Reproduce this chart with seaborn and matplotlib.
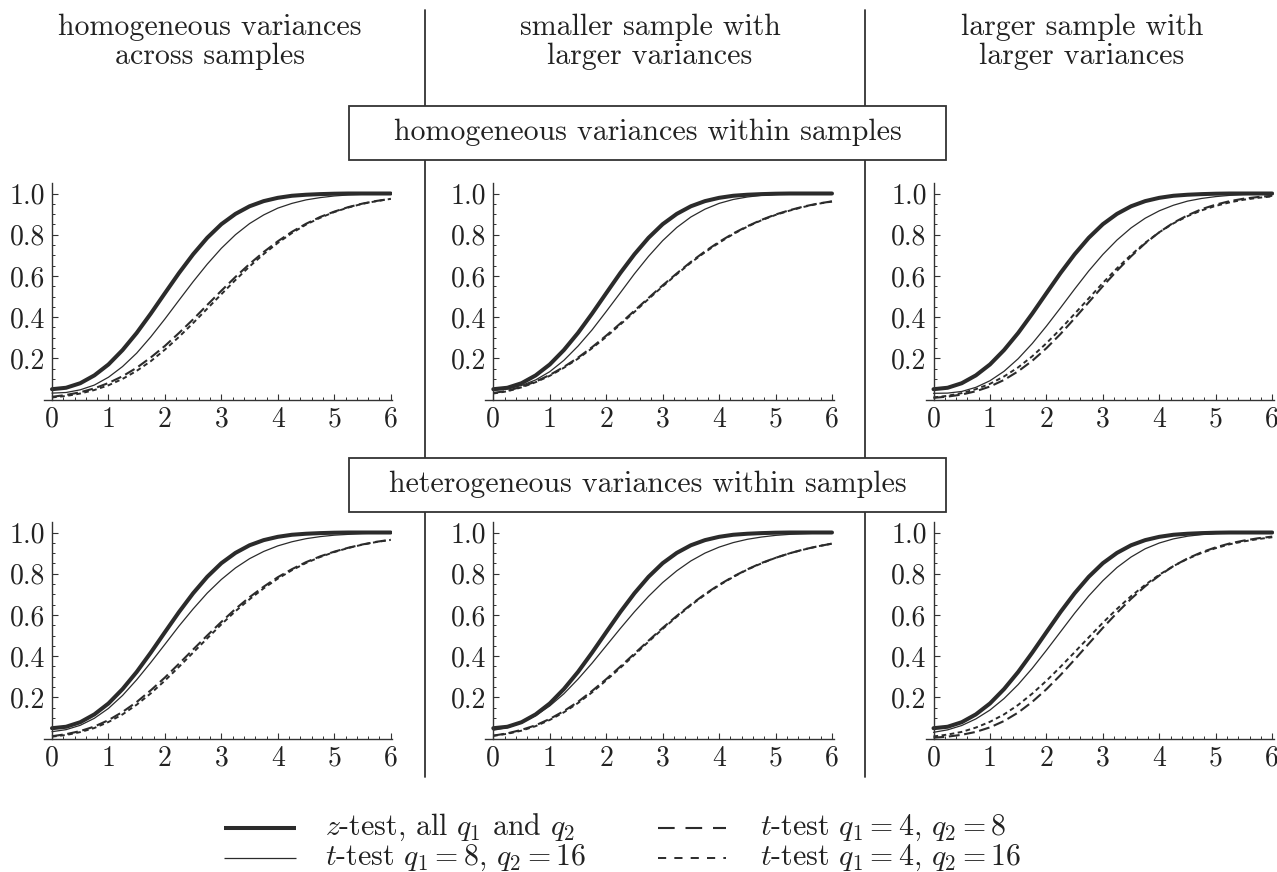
import numpy as np
import pandas as pd
import matplotlib
matplotlib.use("Agg")
import matplotlib.pyplot as plt
import seaborn as sns
from matplotlib.lines import Line2D
from matplotlib.patches import Rectangle

# ---------------- data ----------------
delta = [0.0, 0.25, 0.5, 0.75, 1.0, 1.25, 1.5, 1.75, 2.0, 2.25, 2.5, 2.75, 3.0,
         3.25, 3.5, 3.75, 4.0, 4.25, 4.5, 4.75, 5.0, 5.25, 5.5, 5.75, 6.0]

z_test_all = [0.050, 0.057, 0.079, 0.117, 0.170, 0.240, 0.323, 0.417, 0.516, 0.614, 0.705, 0.785, 0.851,
              0.901, 0.938, 0.963, 0.979, 0.989, 0.994, 0.997, 0.999, 1.000, 1.000, 1.000, 1.000]

# homogeneous within / homogeneous across
hw_ha_t8_16 = [0.031, 0.034, 0.047, 0.070, 0.108, 0.160, 0.225, 0.304, 0.391, 0.482, 0.572, 0.657, 0.734,
               0.800, 0.854, 0.896, 0.929, 0.952, 0.969, 0.980, 0.988, 0.993, 0.996, 0.997, 0.999]
hw_ha_t4_8 = [0.013, 0.022, 0.035, 0.054, 0.080, 0.113, 0.154, 0.204, 0.260, 0.323, 0.389, 0.459, 0.528,
              0.595, 0.658, 0.716, 0.768, 0.814, 0.853, 0.886, 0.912, 0.934, 0.951, 0.964, 0.974]
hw_ha_t4_16 = [0.010, 0.017, 0.029, 0.046, 0.069, 0.100, 0.139, 0.186, 0.242, 0.304, 0.371, 0.441, 0.511,
               0.580, 0.646, 0.706, 0.760, 0.808, 0.849, 0.882, 0.910, 0.932, 0.950, 0.963, 0.974]
# homogeneous within / smaller sample larger variances
hw_sl_t8_16 = [0.045, 0.051, 0.068, 0.095, 0.135, 0.190, 0.259, 0.338, 0.427, 0.518, 0.610, 0.695, 0.771,
               0.835, 0.886, 0.924, 0.952, 0.971, 0.983, 0.991, 0.995, 0.998, 0.999, 1.000, 1.000]
hw_sl_t4_8 = [0.032, 0.042, 0.062, 0.087, 0.119, 0.158, 0.203, 0.254, 0.310, 0.369, 0.431, 0.493, 0.554,
              0.612, 0.668, 0.719, 0.765, 0.806, 0.841, 0.872, 0.898, 0.919, 0.937, 0.951, 0.962]
hw_sl_t4_16 = [0.029, 0.040, 0.059, 0.084, 0.115, 0.154, 0.198, 0.249, 0.304, 0.364, 0.425, 0.488, 0.549,
               0.608, 0.664, 0.715, 0.761, 0.803, 0.839, 0.870, 0.896, 0.917, 0.935, 0.950, 0.961]
# homogeneous within / larger sample larger variances
hw_ll_t8_16 = [0.030, 0.031, 0.039, 0.059, 0.091, 0.137, 0.198, 0.272, 0.356, 0.445, 0.536, 0.624, 0.704,
               0.774, 0.833, 0.880, 0.916, 0.943, 0.963, 0.976, 0.985, 0.991, 0.995, 0.997, 0.998]
hw_ll_t4_8 = [0.008, 0.014, 0.024, 0.040, 0.063, 0.095, 0.137, 0.188, 0.249, 0.318, 0.394, 0.472, 0.550,
              0.625, 0.695, 0.758, 0.812, 0.858, 0.894, 0.924, 0.946, 0.963, 0.975, 0.983, 0.989]
hw_ll_t4_16 = [0.010, 0.018, 0.031, 0.050, 0.076, 0.112, 0.156, 0.210, 0.273, 0.342, 0.416, 0.491, 0.566,
               0.637, 0.702, 0.761, 0.812, 0.855, 0.890, 0.918, 0.940, 0.957, 0.970, 0.979, 0.986]
# heterogeneous within / homogeneous across
he_ha_t8_16 = [0.033, 0.043, 0.064, 0.098, 0.146, 0.209, 0.285, 0.369, 0.457, 0.546, 0.629, 0.706, 0.772,
               0.828, 0.873, 0.908, 0.935, 0.955, 0.970, 0.980, 0.987, 0.991, 0.995, 0.997, 0.998]
he_ha_t4_8 = [0.011, 0.021, 0.036, 0.058, 0.089, 0.129, 0.177, 0.234, 0.296, 0.363, 0.432, 0.500, 0.566,
              0.629, 0.686, 0.737, 0.783, 0.822, 0.856, 0.884, 0.907, 0.926, 0.942, 0.955, 0.965]
he_ha_t4_16 = [0.009, 0.017, 0.031, 0.051, 0.080, 0.117, 0.164, 0.219, 0.281, 0.348, 0.417, 0.486, 0.554,
               0.618, 0.676, 0.729, 0.776, 0.817, 0.852, 0.881, 0.905, 0.925, 0.941, 0.954, 0.964]
# heterogeneous within / smaller sample larger variances
he_sl_t8_16 = [0.040, 0.053, 0.076, 0.111, 0.158, 0.217, 0.288, 0.366, 0.450, 0.534, 0.615, 0.690, 0.757,
               0.814, 0.862, 0.900, 0.929, 0.951, 0.967, 0.978, 0.986, 0.991, 0.994, 0.997, 0.998]
he_sl_t4_8 = [0.014, 0.025, 0.042, 0.064, 0.095, 0.133, 0.178, 0.231, 0.288, 0.349, 0.412, 0.475, 0.537,
              0.595, 0.650, 0.701, 0.746, 0.786, 0.821, 0.852, 0.877, 0.899, 0.918, 0.933, 0.946]
he_sl_t4_16 = [0.013, 0.023, 0.038, 0.060, 0.090, 0.127, 0.172, 0.224, 0.282, 0.343, 0.406, 0.470, 0.532,
               0.591, 0.647, 0.698, 0.744, 0.784, 0.820, 0.850, 0.877, 0.899, 0.917, 0.933, 0.946]
# heterogeneous within / larger sample larger variances
he_ll_t8_16 = [0.030, 0.042, 0.063, 0.095, 0.138, 0.194, 0.262, 0.341, 0.428, 0.518, 0.608, 0.692, 0.766,
               0.830, 0.881, 0.921, 0.949, 0.969, 0.982, 0.990, 0.995, 0.997, 0.999, 0.999, 1.000]
he_ll_t4_8 = [0.004, 0.009, 0.018, 0.032, 0.054, 0.085, 0.126, 0.178, 0.239, 0.308, 0.383, 0.460, 0.537,
              0.610, 0.678, 0.739, 0.791, 0.837, 0.874, 0.904, 0.928, 0.947, 0.961, 0.972, 0.980]
he_ll_t4_16 = [0.010, 0.019, 0.032, 0.053, 0.081, 0.117, 0.163, 0.218, 0.280, 0.348, 0.419, 0.491, 0.562,
               0.629, 0.691, 0.746, 0.795, 0.837, 0.872, 0.901, 0.924, 0.943, 0.957, 0.968, 0.977]

col_headers = [("homogeneous variances", "across samples"),
               ("smaller sample with", "larger variances"),
               ("larger sample with", "larger variances")]
row_titles = ["homogeneous variances within samples",
              "heterogeneous variances within samples"]
x_tick_values = [0, 1, 2, 3, 4, 5, 6]
x_tick_labels = ["0", "1", "2", "3", "4", "5", "6"]
y_tick_values = [0.2, 0.4, 0.6, 0.8, 1.0]
y_tick_labels = ["0.2", "0.4", "0.6", "0.8", "1.0"]
test_order = ["z", "t8_16", "t4_8", "t4_16"]
legend_labels = [r"$z$-test, all $q_1$ and $q_2$",
                 r"$t$-test $q_1 = 8$, $q_2 = 16$",
                 r"$t$-test $q_1 = 4$, $q_2 = 8$",
                 r"$t$-test $q_1 = 4$, $q_2 = 16$"]

panel_series = [
    [[z_test_all, hw_ha_t8_16, hw_ha_t4_8, hw_ha_t4_16],
     [z_test_all, hw_sl_t8_16, hw_sl_t4_8, hw_sl_t4_16],
     [z_test_all, hw_ll_t8_16, hw_ll_t4_8, hw_ll_t4_16]],
    [[z_test_all, he_ha_t8_16, he_ha_t4_8, he_ha_t4_16],
     [z_test_all, he_sl_t8_16, he_sl_t4_8, he_sl_t4_16],
     [z_test_all, he_ll_t8_16, he_ll_t4_8, he_ll_t4_16]],
]

# ---------------- style ----------------
sns.set_theme(style="ticks")
plt.rcParams["font.family"] = ["cmr10", "DejaVu Sans"]
plt.rcParams["mathtext.fontset"] = "cm"
plt.rcParams["axes.formatter.use_mathtext"] = True
plt.rcParams["axes.unicode_minus"] = False

INK = "#2b2b2b"
AX = "#333333"
palette = {"z": INK, "t8_16": INK, "t4_8": INK, "t4_16": INK}
sizes = {"z": 2.9, "t8_16": 0.9, "t4_8": 1.5, "t4_16": 1.4}
dashes = {"z": "", "t8_16": "", "t4_8": (5.2, 2.2), "t4_16": (2.4, 1.8)}

W, H = 1277, 872
fig = plt.figure(figsize=(W / 100, H / 100), dpi=100)
fig.patch.set_facecolor("white")

def fx(px):
    return px / W

def fy(py):
    return 1 - py / H

unit_x = 56.45
unit_y = 206.0
x0_cols = [52.0, 493.3, 933.5]
y0_rows = [399.5, 738.5]
XMIN, XMAX, YMAX = -0.14, 6.03, 1.05

for r in range(2):
    for c in range(3):
        left = x0_cols[c] + XMIN * unit_x
        width = (XMAX - XMIN) * unit_x
        ax = fig.add_axes([fx(left), fy(y0_rows[r]), width / W, YMAX * unit_y / H])
        ax.set_facecolor("none")
        vals = panel_series[r][c]
        df = pd.DataFrame({
            "delta": delta * 4,
            "power": vals[0] + vals[1] + vals[2] + vals[3],
            "test": np.repeat(test_order, len(delta)),
        })
        sns.lineplot(data=df, x="delta", y="power", hue="test", style="test", size="test",
                     hue_order=test_order, style_order=test_order, size_order=test_order,
                     palette=palette, dashes=dashes, sizes=sizes,
                     estimator=None, errorbar=None, legend=False, ax=ax)
        ax.set_xlim(XMIN, XMAX)
        ax.set_ylim(0, YMAX)
        ax.set_xlabel("")
        ax.set_ylabel("")
        for s in ["top", "right"]:
            ax.spines[s].set_visible(False)
        ax.spines["left"].set_position(("data", 0))
        for s in ["left", "bottom"]:
            ax.spines[s].set_color(AX)
            ax.spines[s].set_linewidth(1.0)
        ax.set_xticks(x_tick_values)
        ax.set_xticklabels(x_tick_labels)
        ax.set_xticks([v / 5 for v in range(1, 30) if v % 5 != 0], minor=True)
        ax.set_yticks(y_tick_values)
        ax.set_yticklabels(y_tick_labels)
        ax.set_yticks([v / 20 for v in range(1, 21) if v % 4 != 0], minor=True)
        ax.tick_params(which="both", bottom=True, left=True, top=False, right=False)
        ax.tick_params(which="major", direction="in", length=4.2, width=0.8, color=AX,
                       labelsize=20, labelcolor="#222222", pad=5)
        ax.tick_params(which="minor", direction="in", length=2.3, width=0.7, color=AX)

# column headers
hdr_cx = [210, 650, 1082]
for c, (l1, l2) in enumerate(col_headers):
    fig.text(fx(hdr_cx[c]), fy(35), l1, ha="center", va="baseline", fontsize=21.5, color="#222222")
    fig.text(fx(hdr_cx[c]), fy(63.5), l2, ha="center", va="baseline", fontsize=21.5, color="#222222")

# vertical dividers
for xd in [425, 865]:
    fig.add_artist(Line2D([fx(xd), fx(xd)], [fy(10), fy(777)], transform=fig.transFigure,
                          color=AX, lw=1.3, zorder=1))

# row title boxes
box_tops = [106, 458]
for r, title in enumerate(row_titles):
    top = box_tops[r]
    rect = Rectangle((fx(349), fy(top + 54)), (946 - 349) / W, 54 / H, transform=fig.transFigure,
                     facecolor="white", edgecolor=AX, lw=1.3, zorder=3)
    fig.add_artist(rect)
    fig.text(fx(647.5), fy(top + 34), title, ha="center", va="baseline", fontsize=21.5,
             color="#222222", zorder=4)

# legend (figure-level key)
leg_rows = [828, 858]
leg_cols = [(224, 296, 325), (658, 726, 760)]
leg_styles = [dict(lw=2.9, dashes=()), dict(lw=0.9, dashes=()),
              dict(lw=1.5, dashes=(8.0, 5.2)), dict(lw=1.4, dashes=(4.2, 4.2))]
for i, label in enumerate(legend_labels):
    col, row = i // 2, i % 2
    xa, xb, xt = leg_cols[col]
    y = leg_rows[row]
    st = leg_styles[i]
    ln = Line2D([fx(xa), fx(xb)], [fy(y), fy(y)], transform=fig.transFigure, color=INK, lw=st["lw"],
                solid_capstyle="butt", dash_capstyle="butt")
    if st["dashes"]:
        ln.set_dashes(st["dashes"])
    fig.add_artist(ln)
    fig.text(fx(xt), fy(y + 7), label, ha="left", va="baseline", fontsize=21.5, color="#222222")

fig.savefig("out.png", dpi=100, facecolor="white")
